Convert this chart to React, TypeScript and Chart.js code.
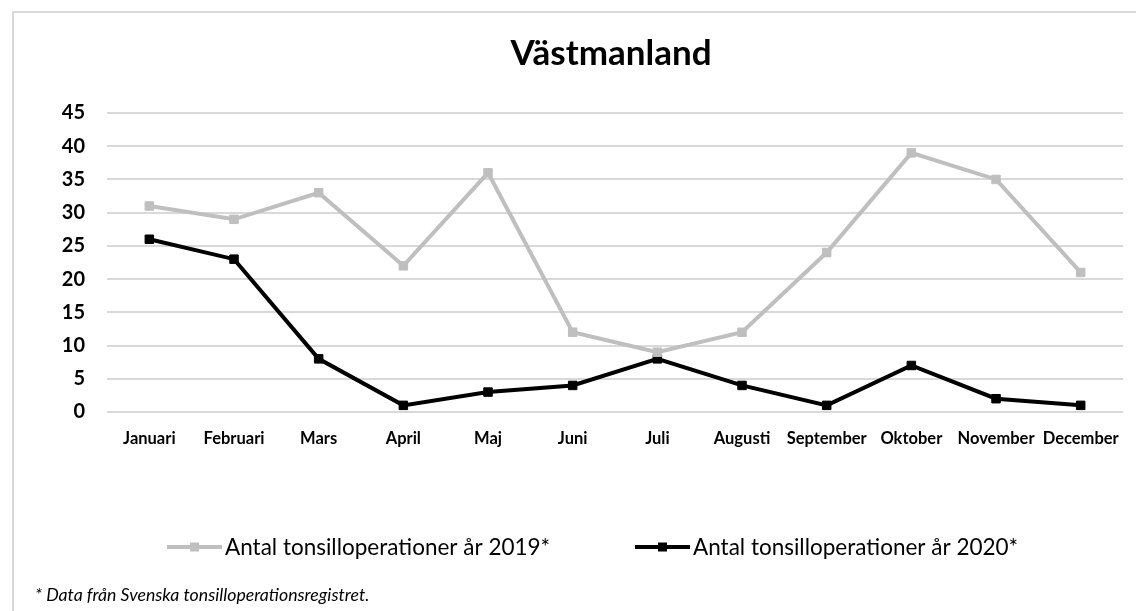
import React, { useEffect, useRef } from "react";
import { Chart, registerables } from "chart.js";

Chart.register(...registerables);

const TITLE = "Västmanland";
const FOOTNOTE = "* Data från Svenska tonsilloperationsregistret.";
const MONTHS = ["Januari", "Februari", "Mars", "April", "Maj", "Juni", "Juli", "Augusti", "September", "Oktober", "November", "December"];
const LABEL_2019 = "Antal tonsilloperationer år 2019*";
const LABEL_2020 = "Antal tonsilloperationer år 2020*";
const VALUES_2019 = [31, 29, 33, 22, 36, 12, 9, 12, 24, 39, 35, 21];
const VALUES_2020 = [26, 23, 8, 1, 3, 4, 8, 4, 1, 7, 2, 1];
const Y_MIN = 0;
const Y_MAX = 45;
const Y_STEP = 5;

const FONT = "Lato, 'Open Sans', sans-serif";
const GRAY = "#bfbfbf";
const BLACK = "#000000";

const decorPlugin = {
  id: "decor",
  afterDraw(chart: any) {
    const ctx = chart.ctx;
    const area = chart.chartArea;
    ctx.save();
    // title
    ctx.fillStyle = "#000";
    ctx.font = `bold 35px ${FONT}`;
    ctx.textAlign = "center";
    ctx.textBaseline = "alphabetic";
    ctx.fillText(TITLE, (area.left + area.right) / 2 - 4, 65);

    // legend
    ctx.font = `22.5px ${FONT}`;
    ctx.textAlign = "left";
    const starts = [167, 635];
    chart.data.datasets.forEach((ds: any, i: number) => {
      const x0 = starts[i];
      const y = 547;
      ctx.strokeStyle = ds.borderColor;
      ctx.lineWidth = ds.borderWidth;
      ctx.beginPath();
      ctx.moveTo(x0, y);
      ctx.lineTo(x0 + 55, y);
      ctx.stroke();
      ctx.fillStyle = ds.pointBackgroundColor;
      ctx.fillRect(x0 + 27.5 - 4.5, y - 4.5, 9, 9);
      ctx.fillStyle = "#000";
      ctx.fillText(ds.label, x0 + 58, 555);
    });

    // footnote
    ctx.font = `italic 17.7px ${FONT}`;
    ctx.fillStyle = "#000";
    ctx.fillText(FOOTNOTE, 35, 601);
    ctx.restore();
  },
};

export default function App() {
  const ref = useRef<HTMLCanvasElement | null>(null);

  useEffect(() => {
    if (!ref.current) return;
    const chart = new Chart(ref.current, {
      type: "line",
      data: {
        labels: MONTHS,
        datasets: [
          {
            label: LABEL_2019,
            data: VALUES_2019,
            borderColor: GRAY,
            backgroundColor: GRAY,
            pointBackgroundColor: GRAY,
            pointBorderColor: GRAY,
            borderWidth: 4,
            pointStyle: "rect",
            pointRadius: 6,
            pointBorderWidth: 1,
            tension: 0,
          },
          {
            label: LABEL_2020,
            data: VALUES_2020,
            borderColor: BLACK,
            backgroundColor: BLACK,
            pointBackgroundColor: BLACK,
            pointBorderColor: BLACK,
            borderWidth: 4,
            pointStyle: "rect",
            pointRadius: 6,
            pointBorderWidth: 1,
            tension: 0,
          },
        ],
      },
      options: {
        responsive: false,
        animation: false,
        devicePixelRatio: 1,
        layout: { padding: { top: 113, right: 4, bottom: 0, left: 0 } },
        plugins: {
          legend: { display: false },
          title: { display: false },
          tooltip: { enabled: false },
        },
        scales: {
          x: {
            offset: true,
            grid: { display: false, drawTicks: false },
            border: { display: false },
            ticks: {
              autoSkip: false,
              maxRotation: 0,
              minRotation: 0,
              padding: 17,
              color: "#000",
              font: { family: FONT, size: 16.5, weight: "bold" },
            },
            afterFit(scale: any) {
              scale.height = 199;
            },
          },
          y: {
            min: Y_MIN,
            max: Y_MAX,
            grid: { color: "#d9d9d9", lineWidth: 2, drawTicks: false },
            border: { display: false },
            ticks: {
              stepSize: Y_STEP,
              padding: 22,
              color: "#000",
              font: { family: FONT, size: 20, weight: "bold" },
            },
            afterFit(scale: any) {
              scale.width = 107;
            },
          },
        },
      },
      plugins: [decorPlugin],
    });
    return () => chart.destroy();
  }, []);

  return (
    <div style={{ position: "fixed", left: 0, top: 0, width: 1136, height: 611, overflow: "hidden", background: "#fff" }}>
      <div
        style={{
          position: "absolute",
          left: 12,
          top: 11,
          width: 1300,
          height: 800,
          border: "2px solid #d9d9d9",
        }}
      />
      <canvas ref={ref} width={1136} height={611} style={{ position: "absolute", left: 0, top: 0, width: 1136, height: 611 }} />
    </div>
  );
}
